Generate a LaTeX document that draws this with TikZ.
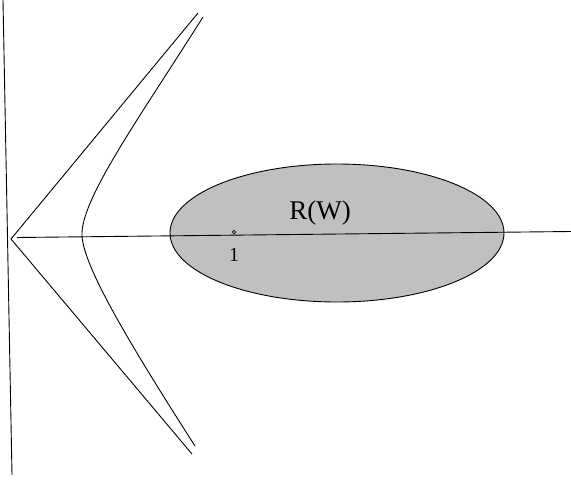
\documentclass[tikz,border=0pt]{standalone}
\usepackage{fontspec}
\setmainfont{Liberation Serif}
\definecolor{regiongray}{RGB}{192,192,192}
\tikzset{
  thinline/.style={line width=0.9pt, black},
  lbl/.style={inner sep=0pt, font=\fontsize{20}{20}\selectfont},
  biglbl/.style={inner sep=0pt, font=\fontsize{27}{27}\selectfont}
}
\begin{document}
\begin{tikzpicture}[x=1pt,y=-1pt]
\useasboundingbox (0,0) rectangle (571,480);
% region R(W)
\filldraw[thinline, fill=regiongray] (337,233) ellipse [x radius=167, y radius=69];
% axes
\coordinate (vtop) at (3,0);
\coordinate (vbot) at (12,475);
\draw[thinline] (vtop) -- (vbot);
\coordinate (hl) at (17,237.5);
\coordinate (hr) at (571,231.5);
\draw[thinline] (hl) -- (hr);
% V (asymptotes)
\coordinate (apex) at (11,239);
\coordinate (vup) at (198,13);
\coordinate (vdn) at (192,454);
\draw[thinline] (vup) -- (apex) -- (vdn);
% hyperbola-like curve
\coordinate (htop) at (203,17);
\coordinate (hvert) at (82,236);
\coordinate (hbot) at (195,446);
\draw[thinline] (htop) .. controls (140,117) and (80,200) .. (hvert)
  .. controls (84,268) and (131,346) .. (hbot);
% point 1
\node[circle, draw, thinline, line width=0.7pt, inner sep=0pt, minimum size=3.5pt, fill=regiongray] (one) at (234,232) {};
\node[lbl] (onelbl) at (234,255) {1};
\node[biglbl] (rw) at (320,213) {R(W)};
\end{tikzpicture}
\end{document}
